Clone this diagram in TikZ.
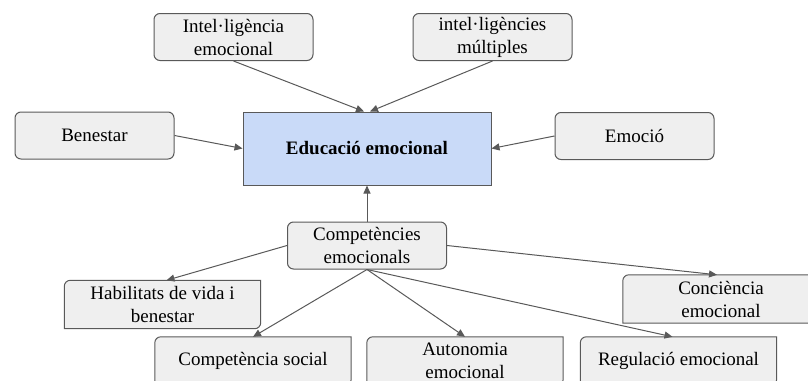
\documentclass[tikz,border=0pt]{standalone}
\usepackage{fontspec}
\setmainfont{Liberation Serif}
\usetikzlibrary{arrows.meta,backgrounds}
\definecolor{boxgray}{HTML}{EFEFEF}
\definecolor{edgegray}{HTML}{595959}
\definecolor{edublue}{HTML}{C9DAF8}

\begin{document}
\begin{tikzpicture}[x=1pt,y=-1pt,
    every node/.style={align=center,font=\fontsize{19}{23}\selectfont},
    topic/.style={draw=edgegray,fill=boxgray,line width=1pt,rounded corners=6pt,minimum width=159pt,minimum height=47pt,inner sep=1pt},
    leaf/.style={minimum width=196pt,minimum height=48pt,inner sep=1pt},
    leafline/.style={draw=edgegray,fill=boxgray,line width=1pt},
    link/.style={draw=edgegray,line width=1pt,-{Triangle[length=8pt,width=7pt]}}]
        \path[use as bounding box] (0,0) rectangle (808,380);

        \node[topic] (intel) at (233.5,37) {Intel·ligència\\emocional};
        \node[topic] (multi) at (492.5,37) {intel·ligències\\múltiples};
        \node[topic] (benestar) at (94.5,135.5) {Benestar};
        \node[topic] (emocio) at (634.5,136) {Emoció};
        \node[draw=edgegray,fill=edublue,line width=1pt,minimum width=248pt,minimum height=73pt,font=\fontsize{19}{23}\selectfont\bfseries] (edu) at (367,148.5) {Educació emocional};
        \node[topic] (comp) at (367,245.5) {Competències\\emocionals};

        \node[leaf] (habil) at (162.5,304.5) {Habilitats de vida i\\benestar};
        \node[leaf] (concie) at (721,299) {Conciència\\emocional};
        \node[leaf] (social) at (253,361) {Competència social};
        \node[leaf] (auton) at (465,361) {Autonomia\\emocional};
        \node[leaf] (regul) at (678.5,361) {Regulació emocional};

        \begin{scope}[on background layer]
        \foreach \n in {habil,concie,social,auton,regul}
            {\filldraw[leafline] (\n.south west) -- ([yshift=-6pt]\n.north west) arc[start angle=180,end angle=90,radius=6pt] -- (\n.north east) -- ([yshift=6pt]\n.south east) arc[start angle=0,end angle=-90,radius=6pt] -- cycle;}
        \end{scope}

        \draw[link] (intel.south) -- ([xshift=-3pt]edu.north);
        \draw[link] (multi.south) -- ([xshift=3pt]edu.north);
        \draw[link] (benestar.east) -- (edu.west);
        \draw[link] (emocio.west) -- (edu.east);
        \draw[link] (comp.north) -- (edu.south);

        \draw[link] (comp.west) -- ([xshift=4pt]habil.north);
        \draw[link] (comp.south) -- (social.north);
        \draw[link] (comp.south) -- (auton.north);
        \draw[link] (comp.south) -- ([xshift=-6pt]regul.north);
        \draw[link] (comp.east) -- ([xshift=-4pt]concie.north);
\end{tikzpicture}
\end{document}
